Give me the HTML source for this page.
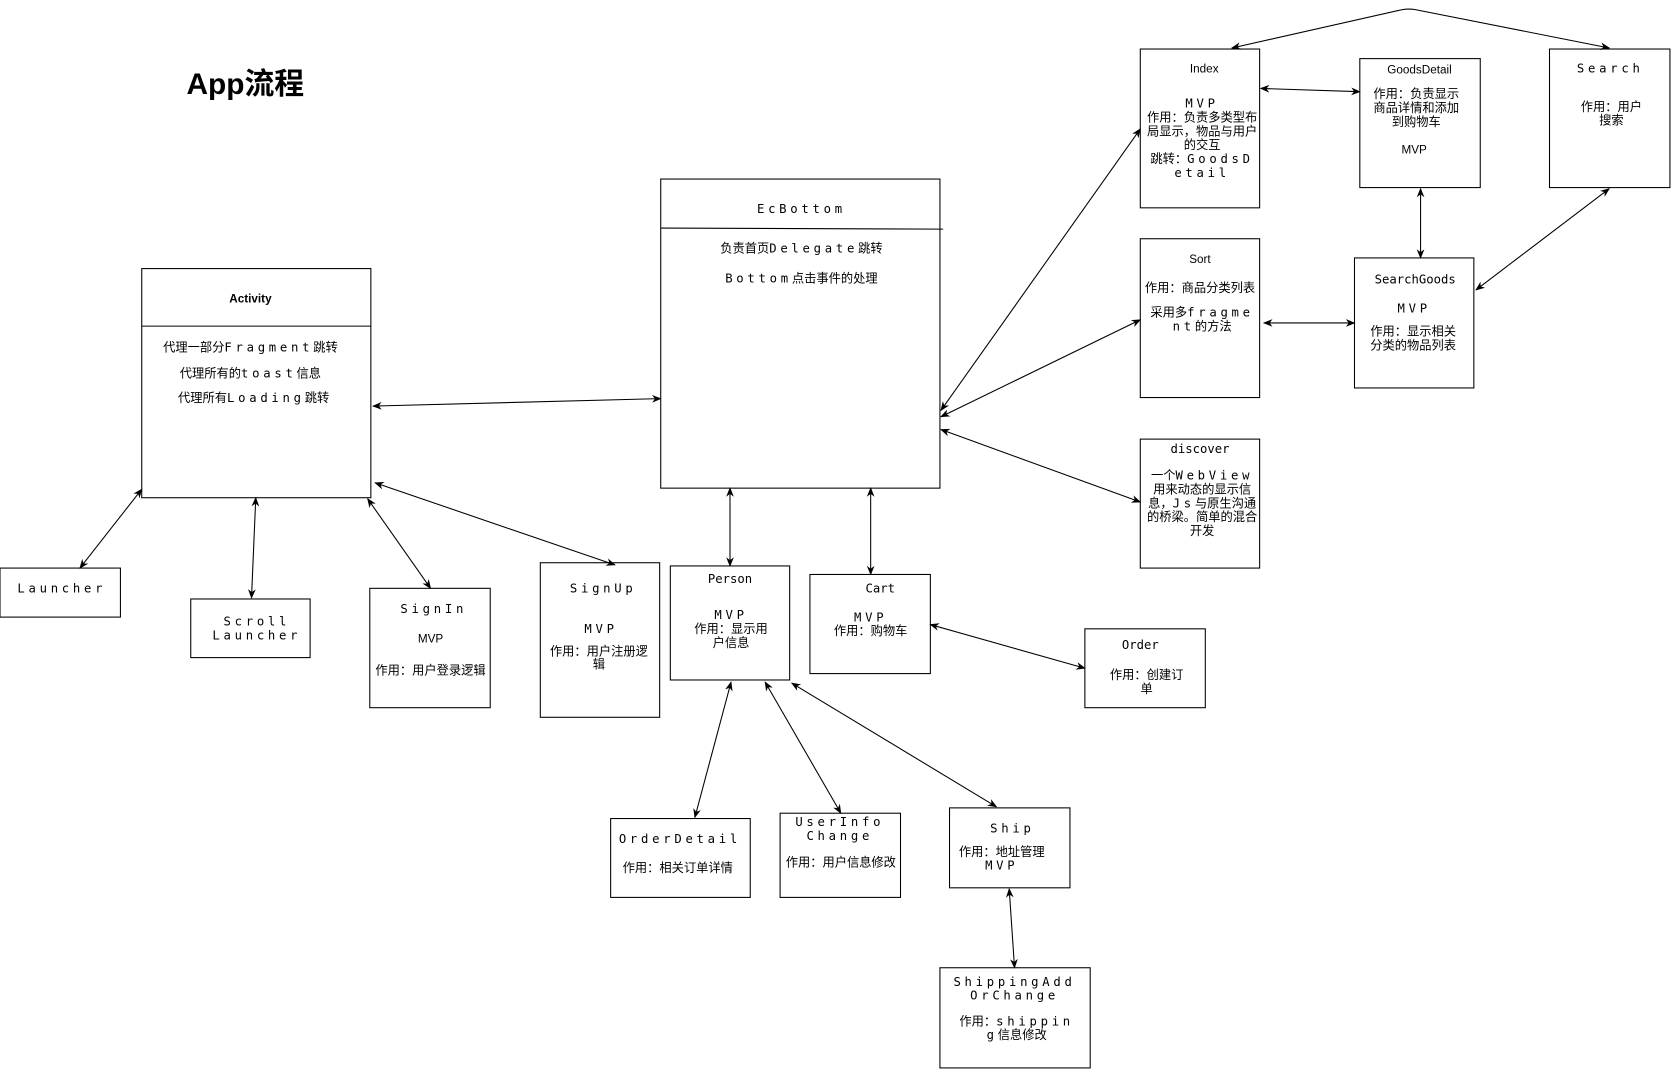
<!DOCTYPE html>
<html><head><meta charset="utf-8">
<style>
html,body{margin:0;padding:0;background:#fff;}
svg{display:block;}
text{font-family:"DejaVu Sans Mono","Noto Sans CJK SC",monospace;font-size:11.5px;fill:#000;}
.s{font-family:"Liberation Sans","Noto Sans CJK SC",sans-serif;}
.w{letter-spacing:3.5px;}
</style></head>
<body>
<svg width="1671" height="1069" viewBox="0 0 1568 1003" preserveAspectRatio="none" xmlns="http://www.w3.org/2000/svg">
<defs>
<marker id="a" viewBox="0 0 10 10" refX="9" refY="5" markerWidth="9" markerHeight="9" orient="auto-start-reverse" markerUnits="userSpaceOnUse">
<path d="M0,1 L10,5 L0,9 L3,5 z" fill="#000"/>
</marker>
</defs>
<g fill="none" stroke="#000" stroke-width="1">
<rect x="133" y="252" width="215" height="215"/><line x1="133" y1="306" x2="348" y2="306"/>
<rect x="620" y="168" width="262" height="290"/><line x1="620" y1="214" x2="885" y2="215"/>
<rect x="1070" y="46" width="112" height="149"/>
<rect x="1276" y="55" width="113" height="121"/>
<rect x="1454" y="46" width="113" height="130"/>
<rect x="1070" y="224" width="112" height="149"/>
<rect x="1271" y="242" width="112" height="122"/>
<rect x="1070" y="412" width="112" height="121"/>
<rect x="0" y="533" width="113" height="46"/>
<rect x="179" y="562" width="112" height="55"/>
<rect x="347" y="552" width="113" height="112"/>
<rect x="507" y="528" width="112" height="145"/>
<rect x="629" y="531" width="112" height="107"/>
<rect x="760" y="539" width="113" height="93"/>
<rect x="1018" y="590" width="113" height="74"/>
<rect x="573" y="768" width="131" height="74"/>
<rect x="732" y="763" width="113" height="79"/>
<rect x="891" y="758" width="113" height="75"/>
<rect x="882" y="908" width="141" height="94"/>
</g>
<g fill="none" stroke="#000" stroke-width="1" marker-start="url(#a)" marker-end="url(#a)">
<line x1="350" y1="381" x2="620" y2="374"/>
<line x1="75" y1="533" x2="133" y2="459"/>
<line x1="236" y1="561" x2="240" y2="467"/>
<line x1="404" y1="552" x2="345" y2="468"/>
<line x1="577" y1="530" x2="352" y2="453"/>
<line x1="685" y1="458" x2="685" y2="531"/>
<line x1="817" y1="458" x2="817" y2="539"/>
<line x1="883" y1="385" x2="1070" y2="121"/>
<line x1="883" y1="391" x2="1070" y2="300"/>
<line x1="883" y1="403" x2="1070" y2="471"/>
<line x1="1183" y1="83" x2="1276" y2="86"/>
<line x1="1333" y1="177" x2="1333" y2="242"/>
<line x1="1186" y1="303" x2="1271" y2="303"/>
<line x1="1510" y1="177" x2="1385" y2="272"/>
<path d="M1156,45 L1316,9 Q1322,8 1328,9 L1510,45"/>
<line x1="686" y1="640" x2="652" y2="767"/>
<line x1="718" y1="640" x2="789" y2="763"/>
<line x1="743" y1="641" x2="935" y2="757"/>
<line x1="947" y1="834" x2="952" y2="908"/>
<line x1="873" y1="586" x2="1018" y2="627"/>
</g>
<text x="175" y="88" class="s" style="font-size:28px;font-weight:bold">App流程</text>
<g text-anchor="middle">
<text x="235" y="284" class="s" style="font-weight:bold;font-size:11px">Activity</text>
<text x="235" y="330">代理一部分<tspan class="w">Fragment</tspan>跳转</text>
<text x="235" y="354">代理所有的<tspan class="w">toast</tspan>信息</text>
<text x="238" y="377">代理所有<tspan class="w">Loading</tspan>跳转</text>

<text x="752" y="200" class="w">EcBottom</text>
<text x="752" y="237">负责首页<tspan class="w">Delegate</tspan>跳转</text>
<text x="752" y="265"><tspan class="w">Bottom</tspan>点击事件的处理</text>

<text x="1130" y="68" class="s" style="font-size:11px">Index</text>
<text x="1128" y="101" class="w">MVP</text>
<text x="1128" y="114">作用：负责多类型布</text>
<text x="1128" y="127">局显示，物品与用户</text>
<text x="1128" y="140">的交互</text>
<text x="1128" y="153">跳转：<tspan class="w">GoodsD</tspan></text>
<text x="1128" y="166" class="w">etail</text>

<text x="1332" y="69" class="s" style="font-size:11px">GoodsDetail</text>
<text x="1329" y="92">作用：负责显示</text>
<text x="1329" y="105">商品详情和添加</text>
<text x="1329" y="118">到购物车</text>
<text x="1327" y="144" class="s" style="font-size:11px">MVP</text>

<text x="1511" y="68" class="w">Search</text>
<text x="1512" y="104">作用：用户</text>
<text x="1512" y="117">搜索</text>

<text x="1126" y="247" class="s" style="font-size:11px">Sort</text>
<text x="1126" y="274">作用：商品分类列表</text>
<text x="1128" y="297">采用多<tspan class="w">fragme</tspan></text>
<text x="1128" y="310"><tspan class="w">nt</tspan>的方法</text>

<text x="1328" y="266">SearchGoods</text>
<text x="1327" y="293" class="w">MVP</text>
<text x="1326" y="315">作用：显示相关</text>
<text x="1326" y="328">分类的物品列表</text>

<text x="1126" y="425">discover</text>
<text x="1128" y="450">一个<tspan class="w">WebView</tspan></text>
<text x="1128" y="463">用来动态的显示信</text>
<text x="1128" y="476">息，<tspan class="w">Js</tspan>与原生沟通</text>
<text x="1128" y="489">的桥梁。简单的混合</text>
<text x="1128" y="502">开发</text>

<text x="58" y="556" class="w">Launcher</text>
<text x="241" y="587" class="w">Scroll</text>
<text x="241" y="600" class="w">Launcher</text>

<text x="407" y="575" class="w">SignIn</text>
<text x="404" y="603" class="s" style="font-size:11px">MVP</text>
<text x="404" y="633">作用：用户登录逻辑</text>

<text x="566" y="556" class="w">SignUp</text>
<text x="564" y="594" class="w">MVP</text>
<text x="562" y="615">作用：用户注册逻</text>
<text x="562" y="627">辑</text>

<text x="685" y="547">Person</text>
<text x="686" y="581" class="w">MVP</text>
<text x="686" y="594">作用：显示用</text>
<text x="686" y="607">户信息</text>

<text x="826" y="556">Cart</text>
<text x="817" y="583" class="w">MVP</text>
<text x="817" y="596">作用：购物车</text>

<text x="1070" y="609">Order</text>
<text x="1076" y="637">作用：创建订</text>
<text x="1076" y="650">单</text>

<text x="638" y="791" class="w">OrderDetail</text>
<text x="636" y="818">作用：相关订单详情</text>

<text x="788" y="775" class="w">UserInfo</text>
<text x="788" y="788" class="w">Change</text>
<text x="789" y="813">作用：用户信息修改</text>

<text x="950" y="781" class="w">Ship</text>
<text x="940" y="803">作用：地址管理</text>
<text x="940" y="816" class="w">MVP</text>

<text x="952" y="925" class="w">ShippingAdd</text>
<text x="952" y="938" class="w">OrChange</text>
<text x="954" y="962">作用：<tspan class="w">shippin</tspan></text>
<text x="954" y="975"><tspan class="w">g</tspan>信息修改</text>
</g>
</svg>
</body></html>
